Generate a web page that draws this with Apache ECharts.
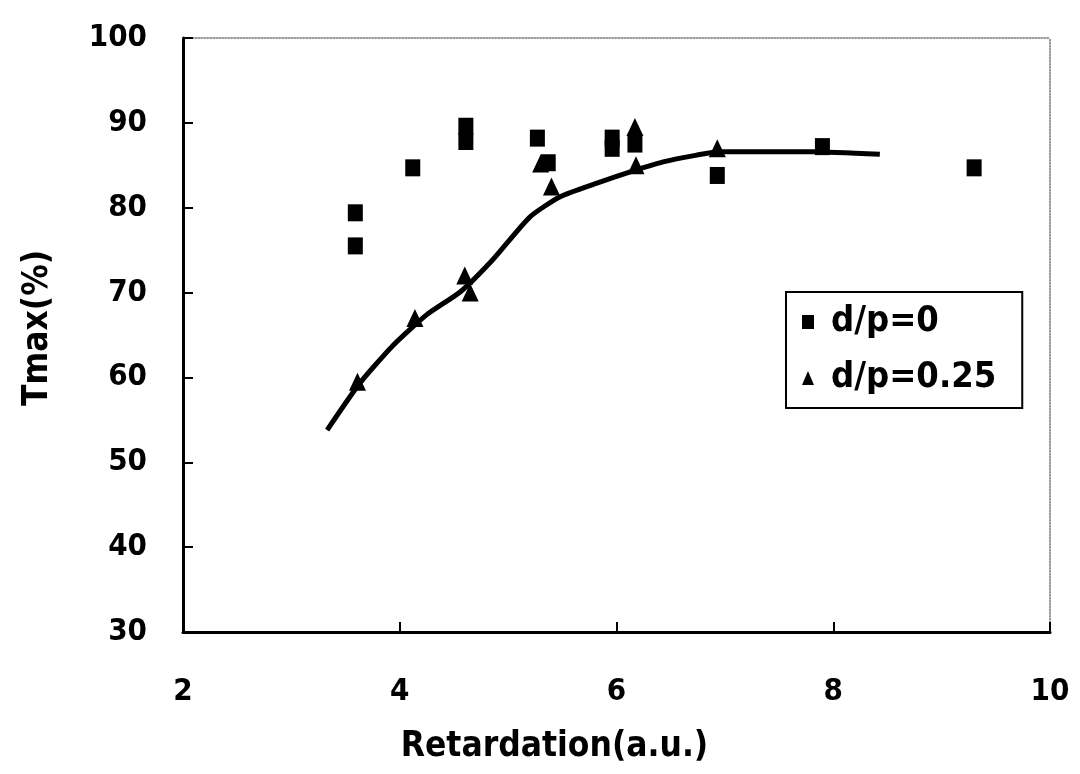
<!DOCTYPE html>
<html>
<head>
    <meta charset="utf-8"/>
    <title>Tmax vs Retardation</title>
    <script src="https://cdn.jsdelivr.net/npm/echarts@6/dist/echarts.min.js"></script>
    <style>
        html, body {margin: 0; padding: 0; background: #fff;}
        #main {width: 1080px; height: 774px;}
    </style>
</head>
<body>
<div id="main"></div>
<script>
    // d/p=0 (squares)
    let sqX = [3.59, 3.59, 4.12, 4.61, 4.61, 5.27, 5.37, 5.96, 5.96, 6.17, 6.93, 7.90, 9.30];
    let sqY = [79.4, 75.5, 84.7, 89.6, 87.8, 88.2, 85.3, 88.2, 87.0, 87.5, 83.8, 87.2, 84.7];
    // d/p=0.25 (triangles)
    let triX = [3.61, 4.14, 4.60, 4.65, 5.30, 5.40, 6.17, 6.18, 6.93];
    let triY = [59.5, 67.0, 72.0, 70.0, 85.2, 82.5, 89.5, 85.0, 87.0];
    // fitted curve
    let fitX = [3.33, 3.63, 3.94, 4.25, 4.56, 4.86, 5.20, 5.48, 5.82, 6.12, 6.43, 6.74, 6.95, 7.81, 8.43];
    let fitY = [53.8, 59.3, 63.8, 67.4, 70.1, 73.9, 78.9, 81.3, 82.9, 84.2, 85.4, 86.2, 86.6, 86.6, 86.3];

    let xTicks = [2, 4, 6, 8, 10];
    let yTicks = [30, 40, 50, 60, 70, 80, 90, 100];

    function pairs(xs, ys) {
        let out = [];
        for (let i = 0; i < xs.length; i++) out.push([xs[i], ys[i]]);
        return out;
    }

    let fontFam = "'DejaVu Sans Condensed', 'DejaVu Sans', sans-serif";
    let lblStyle = {color: '#000', fontSize: 31, fontWeight: 'bold', fontFamily: fontFam};

    let myChart = echarts.init(document.getElementById('main'));
    let option = {
        backgroundColor: '#fff',
        animation: false,
        grid: {left: 183, right: 30, top: 38, bottom: 142},
        legend: {
            orient: 'vertical',
            left: 786,
            top: 292,
            padding: [12, 26, 12, 16],
            itemGap: 20,
            itemWidth: 12,
            itemHeight: 14,
            borderColor: '#000',
            borderWidth: 2,
            backgroundColor: '#fff',
            textStyle: {color: '#000', fontSize: 36, fontWeight: 'bold', fontFamily: fontFam, padding: [0, 0, 0, 12]},
            data: [
                {name: 'd/p=0', icon: 'rect'},
                {name: 'd/p=0.25', icon: 'triangle'}
            ]
        },
        xAxis: [{
            type: 'value',
            min: 2, max: 10, interval: 2,
            name: 'Retardation(a.u.)',
            nameLocation: 'middle',
            nameGap: 97,
            nameTextStyle: {color: '#000', fontSize: 35, fontWeight: 'bold', fontFamily: fontFam, padding: [0, 124, 0, 0]},
            axisLine: {lineStyle: {color: '#000', width: 3}},
            axisTick: {inside: true, length: 10, lineStyle: {color: '#000', width: 2}},
            axisLabel: Object.assign({margin: 44, formatter: function (v) { return xTicks.indexOf(v) >= 0 ? v : ''; }}, lblStyle),
            splitLine: {show: false}
        }, {
            type: 'value', position: 'top',
            min: 2, max: 10,
            axisLine: {show: true, lineStyle: {color: '#777', width: 1.5, type: 'dotted'}},
            axisTick: {show: false}, axisLabel: {show: false}, splitLine: {show: false}
        }],
        yAxis: [{
            type: 'value',
            min: 30, max: 100, interval: 10,
            name: 'Tmax(%)',
            nameLocation: 'middle',
            nameGap: 128,
            nameTextStyle: {color: '#000', fontSize: 35, fontWeight: 'bold', fontFamily: fontFam, padding: [0, 0, 0, 14]},
            axisLine: {lineStyle: {color: '#000', width: 3}},
            axisTick: {inside: true, length: 10, lineStyle: {color: '#000', width: 2}},
            axisLabel: Object.assign({margin: 36, formatter: function (v) { return yTicks.indexOf(v) >= 0 ? v : ''; }}, lblStyle),
            splitLine: {show: false}
        }, {
            type: 'value', position: 'right',
            min: 30, max: 100,
            axisLine: {show: true, lineStyle: {color: '#777', width: 1.5, type: 'dotted'}},
            axisTick: {show: false}, axisLabel: {show: false}, splitLine: {show: false}
        }],
        series: [
            {
                name: 'fit',
                type: 'line',
                smooth: 0.2,
                symbol: 'none',
                lineStyle: {color: '#000', width: 5},
                data: pairs(fitX, fitY),
                z: 1
            },
            {
                name: 'd/p=0',
                type: 'scatter',
                symbol: 'rect',
                symbolSize: [15, 17],
                itemStyle: {color: '#000', opacity: 1},
                data: pairs(sqX, sqY),
                z: 3
            },
            {
                name: 'd/p=0.25',
                type: 'scatter',
                symbol: 'triangle',
                symbolSize: [17, 18],
                itemStyle: {color: '#000', opacity: 1},
                data: pairs(triX, triY),
                z: 3
            }
        ]
    };
    myChart.setOption(option);
</script>
</body>
</html>
